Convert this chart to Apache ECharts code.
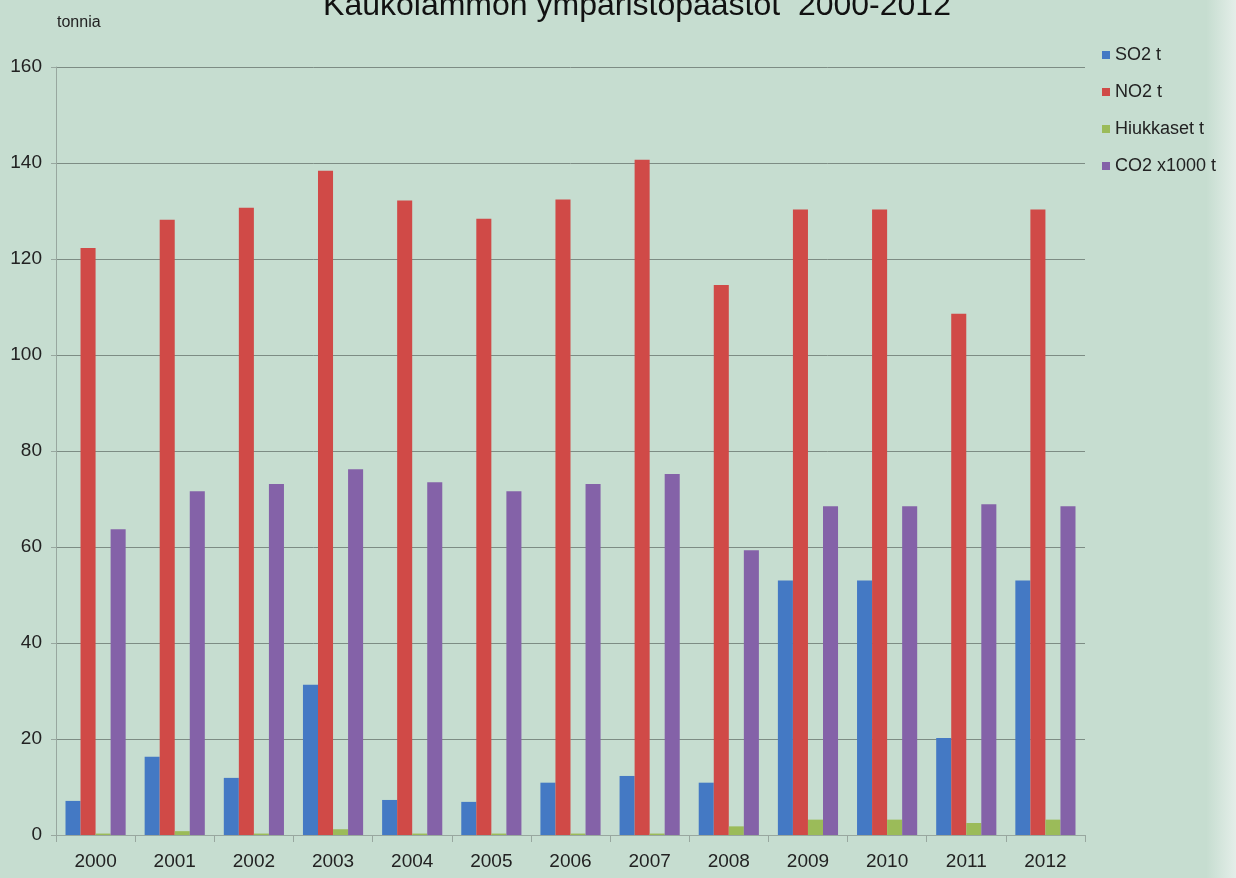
<!DOCTYPE html>
<html>
<head>
<meta charset="utf-8">
<script src="https://cdn.jsdelivr.net/npm/echarts@6/dist/echarts.min.js"></script>
<style>
html, body { margin: 0; padding: 0; }
body {
    width: 1236px;
    height: 878px;
    overflow: hidden;
    background: linear-gradient(to right, #c6ddd0 0%, #c6ddd0 97.6%, #e4eee9 100%);
}
#chart { width: 1236px; height: 878px; }
</style>
</head>
<body>
<div id="chart"></div>
<script>
const years = ['2000', '2001', '2002', '2003', '2004', '2005', '2006', '2007', '2008', '2009', '2010', '2011', '2012']
const so2 = [7.1, 16.3, 11.9, 31.3, 7.3, 6.9, 10.9, 12.3, 10.9, 53, 53, 20.2, 53]
const no2 = [122.3, 128.2, 130.7, 138.4, 132.2, 128.4, 132.4, 140.7, 114.6, 130.3, 130.3, 108.6, 130.3]
const hiukkaset = [0.3, 0.8, 0.3, 1.2, 0.3, 0.3, 0.3, 0.3, 1.8, 3.2, 3.2, 2.5, 3.2]
const co2 = [63.7, 71.6, 73.1, 76.2, 73.5, 71.6, 73.1, 75.2, 59.3, 68.5, 68.5, 68.9, 68.5]
const seriesNames = ['SO2 t', 'NO2 t', 'Hiukkaset t', 'CO2 x1000 t']
const colors = ['#4479c4', '#d04a47', '#9bbb59', '#8462a8']

const font = '"Liberation Sans", Arial, sans-serif'
const myChart = echarts.init(document.getElementById('chart'))

const makeSeries = (name, data) => ({
    name: name,
    type: 'bar',
    data: data,
    barGap: '0%',
    barCategoryGap: '24%'
})

const option = {
    animation: false,
    color: colors,
    textStyle: { fontFamily: font },
    title: {
        text: 'Kaukolämmön ympäristöpäästöt  2000-2012',
        left: 632,
        textAlign: 'center',
        top: -15,
        textStyle: { fontFamily: font, fontSize: 32, fontWeight: 'normal', color: '#111' }
    },
    legend: {
        orient: 'vertical',
        left: 1097,
        top: 41,
        itemWidth: 8,
        itemHeight: 8,
        itemGap: 19,
        icon: 'rect',
        textStyle: { fontFamily: font, fontSize: 18, color: '#222' },
        data: seriesNames
    },
    grid: {
        left: 56,
        right: 151,
        top: 67,
        bottom: 43
    },
    xAxis: {
        type: 'category',
        data: years,
        axisLine: { lineStyle: { color: '#98a79f', width: 1 } },
        axisTick: { show: true, length: 7, lineStyle: { color: '#98a79f' } },
        axisLabel: { color: '#222', fontSize: 19, margin: 17, fontFamily: font }
    },
    yAxis: {
        type: 'value',
        name: 'tonnia',
        nameLocation: 'end',
        nameGap: 44,
        nameTextStyle: { color: '#222', fontSize: 16, align: 'left', verticalAlign: 'middle', padding: [0, 0, 0, 1], fontFamily: font },
        min: 0,
        max: 160,
        interval: 20,
        axisLine: { show: true, lineStyle: { color: '#98a79f' } },
        axisTick: { show: true, length: 5, lineStyle: { color: '#98a79f' } },
        axisLabel: { color: '#222', fontSize: 19, margin: 14, fontFamily: font },
        splitLine: { lineStyle: { color: '#7d8c84', width: 1 } }
    },
    series: [
        makeSeries(seriesNames[0], so2),
        makeSeries(seriesNames[1], no2),
        makeSeries(seriesNames[2], hiukkaset),
        makeSeries(seriesNames[3], co2)
    ]
}
myChart.setOption(option)
</script>
</body>
</html>
